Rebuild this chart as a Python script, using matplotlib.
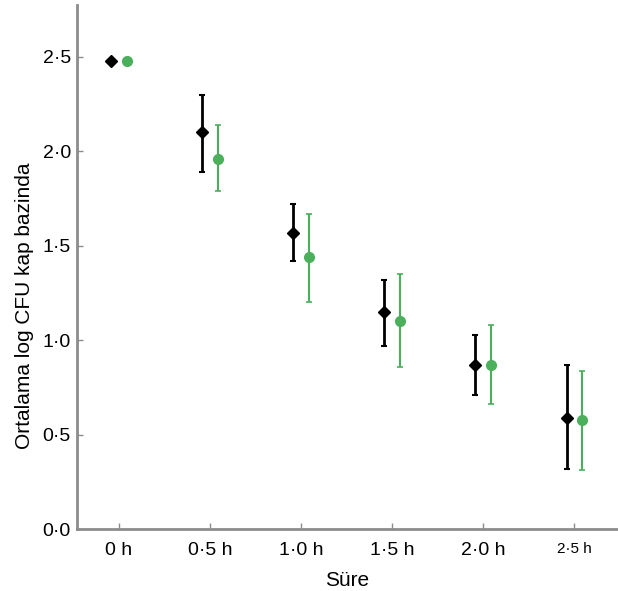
import numpy as np
import matplotlib
matplotlib.use("Agg")
import matplotlib.pyplot as plt

plt.rcParams["font.family"] = ["Liberation Sans", "DejaVu Sans"]

# Veriler
zaman = ["0 h", "0·5 h", "1·0 h", "1·5 h", "2·0 h", "2·5 h"]
siyah_ort = [2.48, 2.10, 1.57, 1.15, 0.87, 0.59]
siyah_ust = [2.48, 2.30, 1.72, 1.32, 1.03, 0.87]
siyah_alt = [2.48, 1.89, 1.42, 0.97, 0.71, 0.32]
yesil_ort = [2.48, 1.96, 1.44, 1.10, 0.87, 0.575]
yesil_ust = [2.48, 2.14, 1.67, 1.35, 1.08, 0.835]
yesil_alt = [2.48, 1.79, 1.20, 0.86, 0.66, 0.31]

yticks = [0.0, 0.5, 1.0, 1.5, 2.0, 2.5]
ytick_labels = ["0·0", "0·5", "1·0", "1·5", "2·0", "2·5"]

x = np.arange(len(zaman))
kayma = 0.085
yesil = "#4caf5c"

fig = plt.figure(figsize=(6.18, 5.91), dpi=100, facecolor="w")
ax = fig.add_axes([0.1246, 0.1049, 0.8754, 0.8866])

s_ort = np.array(siyah_ort)
ax.errorbar(x - kayma, s_ort,
            yerr=[s_ort - np.array(siyah_alt), np.array(siyah_ust) - s_ort],
            fmt="D", color="black", ms=6, elinewidth=2, capsize=2.5, capthick=1.5)

g_ort = np.array(yesil_ort)
ax.errorbar(x + kayma, g_ort,
            yerr=[g_ort - np.array(yesil_alt), np.array(yesil_ust) - g_ort],
            fmt="o", color=yesil, ms=7, elinewidth=1.5, capsize=2, capthick=1.2)

ax.set_xlim(-0.46, 5.48)
ax.set_ylim(0, 2.775)

ax.spines["top"].set_visible(False)
ax.spines["right"].set_visible(False)
for s in ["left", "bottom"]:
    ax.spines[s].set_color("#8c8c8c")
    ax.spines[s].set_linewidth(2)

ax.set_yticks(yticks)
ax.set_yticklabels(ytick_labels, fontsize=14)
ax.set_xticks(x)
ax.set_xticklabels(zaman, fontsize=14)
ax.get_xticklabels()[-1].set_fontsize(11)
ax.tick_params(axis="both", direction="in", color="#8c8c8c", length=4, width=1)
ax.tick_params(axis="y", pad=4.5)
ax.tick_params(axis="x", pad=9)

ax.set_xlabel("Süre", fontsize=15, labelpad=9)
ax.set_ylabel("Ortalama log CFU kap bazinda", fontsize=15)
# etiket eksenin ortasında değil, biraz aşağıda
ax.yaxis.set_label_coords(-0.08, 0.427)

plt.savefig("out.png", dpi=100)
plt.close()
